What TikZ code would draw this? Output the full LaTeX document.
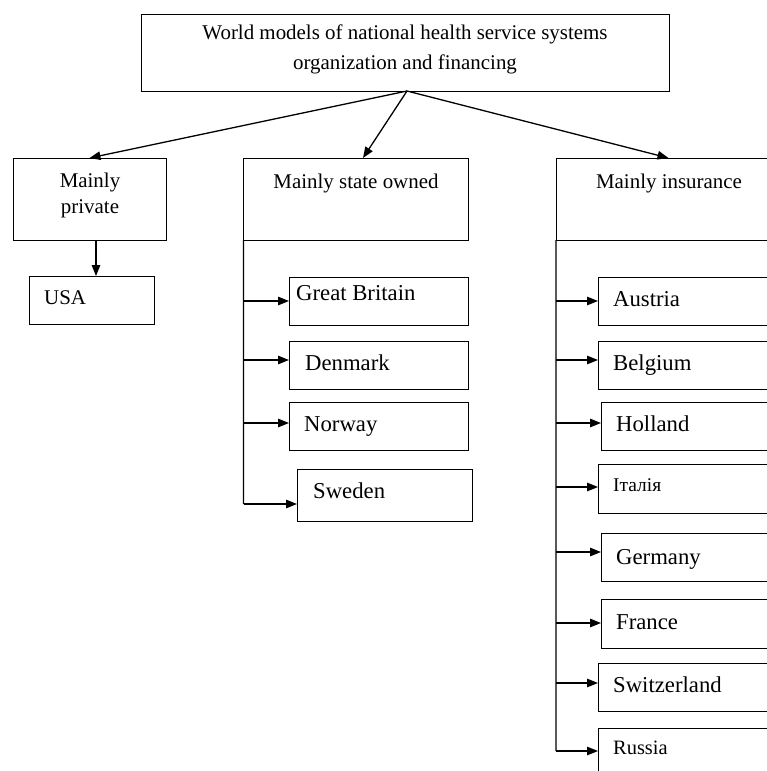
\documentclass[tikz,border=0pt]{standalone}
\usepackage{fontspec}
\setmainfont{Liberation Serif}
\usetikzlibrary{arrows.meta}
\tikzset{
  box/.style={draw, line width=0.9bp, inner sep=0pt, outer sep=0pt},
  arr/.style={line width=1.3bp, -{Triangle[length=11bp,width=8.5bp]}},
  conn/.style={line width=1.3bp},
  lbl/.style={inner sep=0pt, anchor=base, font=\fontsize{21}{25}\selectfont},
  ctry/.style={inner sep=0pt, anchor=base west, font=\fontsize{22.8}{27}\selectfont},
  ctrys/.style={inner sep=0pt, anchor=base west, font=\fontsize{20.5}{25}\selectfont},
}
\begin{document}
\begin{tikzpicture}[x=1bp,y=-1bp]
\useasboundingbox (0,0) rectangle (767,771);
\clip (0,0) rectangle (767,771);
\fill[white] (0,0) rectangle (767,771);

% boxes
\node[box, minimum width=528bp, minimum height=77bp] (top) at (405,52.5) {};
\node[box, minimum width=153bp, minimum height=82bp] (priv) at (89.5,199) {};
\node[box, minimum width=125bp, minimum height=48bp] (usa) at (91.5,300) {};
\node[box, minimum width=225bp, minimum height=82bp] (state) at (355.5,199) {};
\node[box, minimum width=225bp, minimum height=82bp] (ins) at (668.5,199) {};

\node[box, minimum width=179bp, minimum height=48bp] (gb) at (378.5,301) {};
\node[box, minimum width=179bp, minimum height=48bp] (dk) at (378.5,365) {};
\node[box, minimum width=179bp, minimum height=48bp] (no) at (378.5,426) {};
\node[box, minimum width=175bp, minimum height=52bp] (se) at (384.5,495) {};

\node[box, minimum width=180bp, minimum height=48bp] (au) at (688,301) {};
\node[box, minimum width=180bp, minimum height=48bp] (be) at (688,365) {};
\node[box, minimum width=180bp, minimum height=48bp] (ho) at (691,426) {};
\node[box, minimum width=180bp, minimum height=49bp] (it) at (688,488.5) {};
\node[box, minimum width=180bp, minimum height=48bp] (de) at (691,557) {};
\node[box, minimum width=180bp, minimum height=49bp] (fr) at (691,623.5) {};
\node[box, minimum width=180bp, minimum height=48bp] (sw) at (688,687) {};
\node[box, minimum width=180bp, minimum height=72bp] (ru) at (688,764) {};

% texts
\node[lbl] (t1) at (405,40) {World models of national health service systems};
\node[lbl] (t2) at (405,70) {organization and financing};
\node[lbl] (p1) at (90,187) {Mainly};
\node[lbl] (p2) at (90,213) {private};
\node[lbl] (s1) at (356,188) {Mainly state owned};
\node[lbl] (i1) at (669,188) {Mainly insurance};
\node[lbl, anchor=base west] (u1) at (44,304) {USA};

\node[ctry] (gbt) at (296,300) {Great Britain};
\node[ctry] (dkt) at (305,370) {Denmark};
\node[ctry] (not) at (304,431) {Norway};
\node[ctry] (set) at (313,498) {Sweden};

\node[ctry] (aut) at (613,306) {Austria};
\node[ctry] (bet) at (613,370) {Belgium};
\node[ctry] (hot) at (616,431) {Holland};
\node[ctrys, font=\fontsize{19.5}{24}\selectfont] (itt) at (613,491) {Італія};
\node[ctry] (det) at (616,564) {Germany};
\node[ctry] (frt) at (616,629) {France};
\node[ctry] (swt) at (613,692) {Switzerland};
\node[ctrys] (rut) at (613,754) {Russia};

% top-level arrows
\coordinate (o) at (407,91);
\draw[arr] (o) -- (priv.north);
\draw[arr] (o) -- ([xshift=7.5bp]state.north);
\draw[arr] (o) -- (ins.north);
\draw[arr] ([xshift=6.5bp]priv.south) -- ([xshift=6.5bp]priv.south |- usa.north);

% state-owned branch
\coordinate (mv) at (243.5,504);
\coordinate (gbA) at (243.5,301);
\coordinate (dkA) at (243.5,360);
\coordinate (noA) at (243.5,423);
\draw[conn] ([xshift=0.5bp]state.south west) -- (mv);
\draw[arr] (mv) -- (mv -| se.west);
\draw[arr] (gbA) -- (gbA -| gb.west);
\draw[arr] (dkA) -- (dkA -| dk.west);
\draw[arr] (noA) -- (noA -| no.west);

% insurance branch
\coordinate (rv) at (556,751);
\coordinate (auA) at (556,301);
\coordinate (beA) at (556,360);
\coordinate (hoA) at (556,423);
\coordinate (itA) at (556,487);
\coordinate (deA) at (556,552);
\coordinate (frA) at (556,623);
\coordinate (swA) at (556,683);
\draw[conn] (ins.south west) -- (rv);
\draw[arr] (rv) -- (rv -| ru.west);
\draw[arr] (auA) -- (auA -| au.west);
\draw[arr] (beA) -- (beA -| be.west);
\draw[arr] (hoA) -- (hoA -| ho.west);
\draw[arr] (itA) -- (itA -| it.west);
\draw[arr] (deA) -- (deA -| de.west);
\draw[arr] (frA) -- (frA -| fr.west);
\draw[arr] (swA) -- (swA -| sw.west);
\end{tikzpicture}
\end{document}
